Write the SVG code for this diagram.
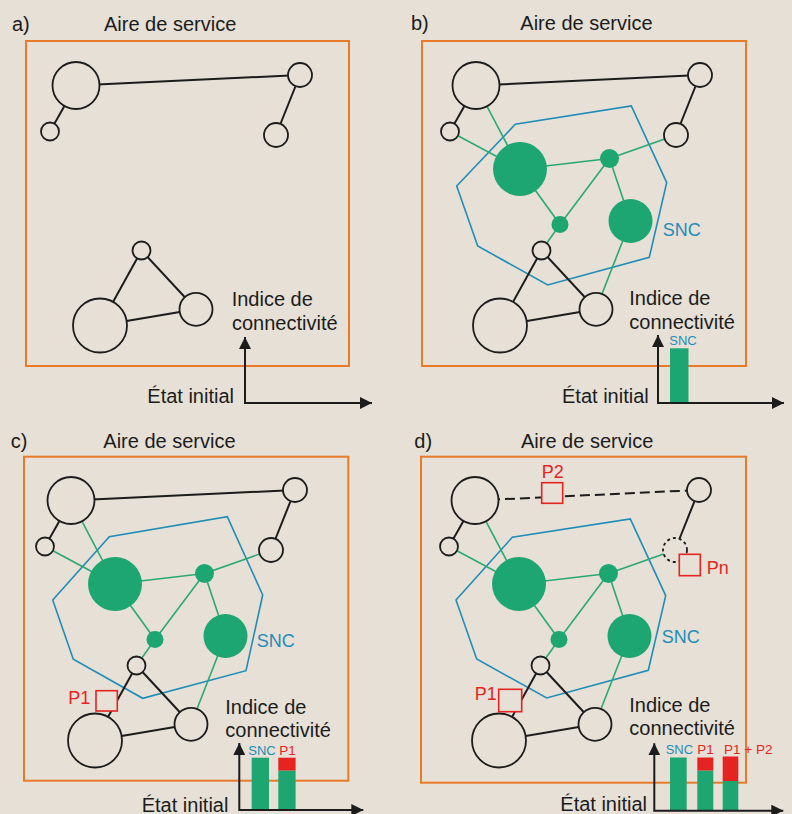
<svg xmlns="http://www.w3.org/2000/svg" width="792" height="814" viewBox="0 0 792 814">
<defs>
<style>
.t{font-family:"Liberation Sans",Arial,sans-serif;font-size:20px;fill:#1c1c1c}
.lb{font-family:"Liberation Sans",Arial,sans-serif;font-size:18px;fill:#1f8db8}
.lr{font-family:"Liberation Sans",Arial,sans-serif;font-size:18px;fill:#e52421}
.sb{font-family:"Liberation Sans",Arial,sans-serif;font-size:13px;fill:#1f8db8}
.sr{font-family:"Liberation Sans",Arial,sans-serif;font-size:13.5px;fill:#e52421}
.area{fill:none;stroke:#e87a2a;stroke-width:2}
.hex{fill:none;stroke:#1f8db8;stroke-width:1.6}
.eb{stroke:#1c1c1c;stroke-width:2;fill:none}
.ebd{stroke:#1c1c1c;stroke-width:2;fill:none;stroke-dasharray:10 5}
.eg{stroke:#2aa874;stroke-width:1.6;fill:none}
.nw{fill:#e6e0d6;stroke:#1c1c1c;stroke-width:1.8}
.nwd{fill:#e6e0d6;stroke:#1c1c1c;stroke-width:1.8;stroke-dasharray:3 3}
.ng{fill:#1ea672;stroke:none}
.p{fill:#e6e0d6;stroke:#e52421;stroke-width:1.6}
.ax{fill:none;stroke:#1c1c1c;stroke-width:2;marker-end:url(#ah);marker-start:url(#ahs)}
.bg{fill:#1ea672}
.br{fill:#e52421}
</style>
<marker id="ah" viewBox="0 0 12 12" refX="12" refY="6" markerWidth="12" markerHeight="12" markerUnits="userSpaceOnUse" orient="auto"><path d="M0,0 L12,6 L0,12 z" fill="#1c1c1c"/></marker>
<marker id="ahs" viewBox="0 0 12 12" refX="12" refY="6" markerWidth="12" markerHeight="12" markerUnits="userSpaceOnUse" orient="auto-start-reverse"><path d="M0,0 L12,6 L0,12 z" fill="#1c1c1c"/></marker>
</defs>
<rect x="0" y="0" width="792" height="814" fill="#e6e0d6"/>

<!-- Panel a -->
<g id="panel-a">
<rect class="area" x="26" y="41" width="323" height="325"/>
<g transform="translate(-400,0)">
<g id="a-connectors">
<line class="eb" x1="476" y1="85.5" x2="700" y2="75"/>
<line class="eb" x1="476" y1="85.5" x2="450" y2="131.5"/>
<line class="eb" x1="700" y1="75" x2="676" y2="135"/>
<line class="eb" x1="541.5" y1="250.5" x2="500" y2="325.5"/>
<line class="eb" x1="541.5" y1="250.5" x2="596" y2="309.3"/>
<line class="eb" x1="500" y1="325.5" x2="596" y2="309.3"/>
</g>
<g id="a-n1"><circle class="nw" cx="476" cy="85.5" r="23.5"/></g>
<g id="a-n2"><circle class="nw" cx="450" cy="131.5" r="9"/></g>
<g id="a-n3"><circle class="nw" cx="700" cy="75" r="12"/></g>
<g id="a-n4"><circle class="nw" cx="676" cy="135" r="12"/></g>
<g id="a-n5"><circle class="nw" cx="541.5" cy="250.5" r="9"/></g>
<g id="a-n6"><circle class="nw" cx="500" cy="325.5" r="27"/></g>
<g id="a-n7"><circle class="nw" cx="596" cy="309.3" r="16.5"/></g>
</g>
<text class="t" x="12" y="31">a)</text>
<text class="t" x="104" y="31">Aire de service</text>
<text class="t" x="231.7" y="305.7">Indice de</text>
<text class="t" x="232" y="330">connectivité</text>
<text class="t" x="147.3" y="403">État initial</text>
<polyline class="ax" points="245,337 245,403 372,403"/>
</g>

<!-- Panel b -->
<g id="panel-b">
<rect class="area" x="422" y="41" width="324" height="325"/>
<g>
<polygon id="b-snc" class="hex" points="456.7,186 515.3,124.3 631.3,106 666.7,182.7 649.3,257.3 547.7,285 477.7,246"/>
<g id="b-connectors">
<line class="eb" x1="476" y1="85.5" x2="700" y2="75"/>
<line class="eb" x1="476" y1="85.5" x2="450" y2="131.5"/>
<line class="eb" x1="700" y1="75" x2="676" y2="135"/>
<line class="eb" x1="541.5" y1="250.5" x2="500" y2="325.5"/>
<line class="eb" x1="541.5" y1="250.5" x2="596" y2="309.3"/>
<line class="eb" x1="500" y1="325.5" x2="596" y2="309.3"/>
<line class="eg" x1="476" y1="85.5" x2="520" y2="169"/>
<line class="eg" x1="450" y1="131.5" x2="520" y2="169"/>
<line class="eg" x1="520" y1="169" x2="609.5" y2="158.5"/>
<line class="eg" x1="609.5" y1="158.5" x2="676" y2="135"/>
<line class="eg" x1="609.5" y1="158.5" x2="560" y2="224.5"/>
<line class="eg" x1="609.5" y1="158.5" x2="630.5" y2="221"/>
<line class="eg" x1="520" y1="169" x2="560" y2="224.5"/>
<line class="eg" x1="560" y1="224.5" x2="541.5" y2="250.5"/>
<line class="eg" x1="630.5" y1="221" x2="596" y2="309.3"/>
</g>
<g id="b-n1"><circle class="nw" cx="476" cy="85.5" r="23.5"/></g>
<g id="b-n2"><circle class="nw" cx="450" cy="131.5" r="9"/></g>
<g id="b-n3"><circle class="nw" cx="700" cy="75" r="12"/></g>
<g id="b-n4"><circle class="nw" cx="676" cy="135" r="12"/></g>
<g id="b-g1"><circle class="ng" cx="520" cy="169" r="27"/></g>
<g id="b-g2"><circle class="ng" cx="609.5" cy="158.5" r="9.5"/></g>
<g id="b-g3"><circle class="ng" cx="560" cy="224.5" r="8.5"/></g>
<g id="b-g4"><circle class="ng" cx="630.5" cy="221" r="22"/></g>
<g id="b-n5"><circle class="nw" cx="541.5" cy="250.5" r="9"/></g>
<g id="b-n6"><circle class="nw" cx="500" cy="325.5" r="27"/></g>
<g id="b-n7"><circle class="nw" cx="596" cy="309.3" r="16.5"/></g>
</g>
<text class="t" x="411" y="30">b)</text>
<text class="t" x="520.3" y="30">Aire de service</text>
<text class="lb" x="662.7" y="235.7">SNC</text>
<text class="t" x="629.3" y="305">Indice de</text>
<text class="t" x="629.3" y="329">connectivité</text>
<rect class="bg" x="670" y="348.3" width="18.5" height="54.7"/>
<text class="sb" x="669.3" y="344.5">SNC</text>
<text class="t" x="562" y="403">État initial</text>
<polyline class="ax" points="658,335 658,403 784,403"/>
</g>

<!-- Panel c -->
<g id="panel-c">
<rect class="area" x="24" y="456.7" width="324.3" height="324"/>
<g transform="translate(-405,415)">
<polygon id="c-snc" class="hex" points="457.7,185 514.3,121.7 632.3,101.7 667.7,180 651,255.7 547.7,283.3 478.3,244.3"/>
<g id="c-connectors">
<line class="eb" x1="476" y1="85.5" x2="700" y2="75"/>
<line class="eb" x1="476" y1="85.5" x2="450" y2="131.5"/>
<line class="eb" x1="700" y1="75" x2="676" y2="135"/>
<line class="eb" x1="541.5" y1="250.5" x2="500" y2="325.5"/>
<line class="eb" x1="541.5" y1="250.5" x2="596" y2="309.3"/>
<line class="eb" x1="500" y1="325.5" x2="596" y2="309.3"/>
<line class="eg" x1="476" y1="85.5" x2="520" y2="169"/>
<line class="eg" x1="450" y1="131.5" x2="520" y2="169"/>
<line class="eg" x1="520" y1="169" x2="609.5" y2="158.5"/>
<line class="eg" x1="609.5" y1="158.5" x2="676" y2="135"/>
<line class="eg" x1="609.5" y1="158.5" x2="560" y2="224.5"/>
<line class="eg" x1="609.5" y1="158.5" x2="630.5" y2="221"/>
<line class="eg" x1="520" y1="169" x2="560" y2="224.5"/>
<line class="eg" x1="560" y1="224.5" x2="541.5" y2="250.5"/>
<line class="eg" x1="630.5" y1="221" x2="596" y2="309.3"/>
</g>
<g id="c-n1"><circle class="nw" cx="476" cy="85.5" r="23.5"/></g>
<g id="c-n2"><circle class="nw" cx="450" cy="131.5" r="9"/></g>
<g id="c-n3"><circle class="nw" cx="700" cy="75" r="12"/></g>
<g id="c-n4"><circle class="nw" cx="676" cy="135" r="12"/></g>
<g id="c-g1"><circle class="ng" cx="520" cy="169" r="27"/></g>
<g id="c-g2"><circle class="ng" cx="609.5" cy="158.5" r="9.5"/></g>
<g id="c-g3"><circle class="ng" cx="560" cy="224.5" r="8.5"/></g>
<g id="c-g4"><circle class="ng" cx="630.5" cy="221" r="22"/></g>
<g id="c-n5"><circle class="nw" cx="541.5" cy="250.5" r="9"/></g>
<g id="c-n6"><circle class="nw" cx="500" cy="325.5" r="27"/></g>
<g id="c-n7"><circle class="nw" cx="596" cy="309.3" r="16.5"/></g>
</g>
<g id="c-p1"><rect class="p" x="96" y="690.7" width="21.3" height="20.3"/></g>
<text class="lr" x="68.3" y="704">P1</text>
<text class="t" x="10.7" y="447.5">c)</text>
<text class="t" x="103.3" y="447.5">Aire de service</text>
<text class="lb" x="256.7" y="646.7">SNC</text>
<text class="t" x="225.3" y="714">Indice de</text>
<text class="t" x="225.3" y="737.3">connectivité</text>
<rect class="bg" x="251.7" y="757.7" width="17.3" height="52.3"/>
<rect class="br" x="278.3" y="757.7" width="17.3" height="13"/>
<rect class="bg" x="278.3" y="770.7" width="17.3" height="39.3"/>
<text class="sb" x="248.3" y="755">SNC</text>
<text class="sr" x="279.3" y="755">P1</text>
<text class="t" x="141.7" y="811.5">État initial</text>
<polyline class="ax" points="239.3,743 239.3,810 363.3,810"/>
</g>

<!-- Panel d -->
<g id="panel-d">
<rect class="area" x="421" y="456.7" width="325" height="326"/>
<g transform="translate(-1,415)">
<polygon id="d-snc" class="hex" points="457,185 513.3,122.3 631.3,104 666.7,180.7 649.3,255.3 547.7,283 477.7,244"/>
<g id="d-connectors">
<line class="ebd" x1="476" y1="85.5" x2="700" y2="75"/>
<line class="eb" x1="476" y1="85.5" x2="450" y2="131.5"/>
<line class="eb" x1="700" y1="75" x2="676" y2="135"/>
<line class="eb" x1="541.5" y1="250.5" x2="500" y2="325.5"/>
<line class="eb" x1="541.5" y1="250.5" x2="596" y2="309.3"/>
<line class="eb" x1="500" y1="325.5" x2="596" y2="309.3"/>
<line class="eg" x1="476" y1="85.5" x2="520" y2="169"/>
<line class="eg" x1="450" y1="131.5" x2="520" y2="169"/>
<line class="eg" x1="520" y1="169" x2="609.5" y2="158.5"/>
<line class="eg" x1="609.5" y1="158.5" x2="676" y2="135"/>
<line class="eg" x1="609.5" y1="158.5" x2="560" y2="224.5"/>
<line class="eg" x1="609.5" y1="158.5" x2="630.5" y2="221"/>
<line class="eg" x1="520" y1="169" x2="560" y2="224.5"/>
<line class="eg" x1="560" y1="224.5" x2="541.5" y2="250.5"/>
<line class="eg" x1="630.5" y1="221" x2="596" y2="309.3"/>
</g>
<g id="d-n1"><circle class="nw" cx="476" cy="85.5" r="23.5"/></g>
<g id="d-n2"><circle class="nw" cx="450" cy="131.5" r="9"/></g>
<g id="d-n3"><circle class="nw" cx="700" cy="75" r="12"/></g>
<g id="d-n4"><circle class="nwd" cx="676" cy="135" r="12"/></g>
<g id="d-g1"><circle class="ng" cx="520" cy="169" r="27"/></g>
<g id="d-g2"><circle class="ng" cx="609.5" cy="158.5" r="9.5"/></g>
<g id="d-g3"><circle class="ng" cx="560" cy="224.5" r="8.5"/></g>
<g id="d-g4"><circle class="ng" cx="630.5" cy="221" r="22"/></g>
<g id="d-n5"><circle class="nw" cx="541.5" cy="250.5" r="9"/></g>
<g id="d-n6"><circle class="nw" cx="500" cy="325.5" r="27"/></g>
<g id="d-n7"><circle class="nw" cx="596" cy="309.3" r="16.5"/></g>
</g>
<g id="d-p2"><rect class="p" x="541.7" y="482.7" width="21" height="20.6"/></g>
<g id="d-pn"><rect class="p" x="679.3" y="554.3" width="21" height="21.4"/></g>
<g id="d-p1"><rect class="p" x="498.7" y="689.3" width="23" height="22.4"/></g>
<text class="lr" x="541.7" y="478.3">P2</text>
<text class="lr" x="706.7" y="574.3">Pn</text>
<text class="lr" x="474.7" y="700">P1</text>
<text class="t" x="414.3" y="447.5">d)</text>
<text class="t" x="521" y="447.5">Aire de service</text>
<text class="lb" x="661.7" y="642.7">SNC</text>
<text class="t" x="629.3" y="711.7">Indice de</text>
<text class="t" x="629.3" y="735">connectivité</text>
<rect class="bg" x="670" y="757.5" width="16.7" height="53.2"/>
<rect class="br" x="697.3" y="757.5" width="16" height="13.2"/>
<rect class="bg" x="697.3" y="770.7" width="16" height="40"/>
<rect class="br" x="722.7" y="756.5" width="15.6" height="24.5"/>
<rect class="bg" x="722.7" y="781" width="15.6" height="29.7"/>
<text class="sb" x="665.7" y="754.3">SNC</text>
<text class="sr" x="697.3" y="754.3">P1</text>
<text class="sr" x="724" y="754.3">P1 + P2</text>
<text class="t" x="560.3" y="811">État initial</text>
<polyline class="ax" points="654.3,743.3 654.3,810.7 783.3,810.7"/>
</g>
</svg>
